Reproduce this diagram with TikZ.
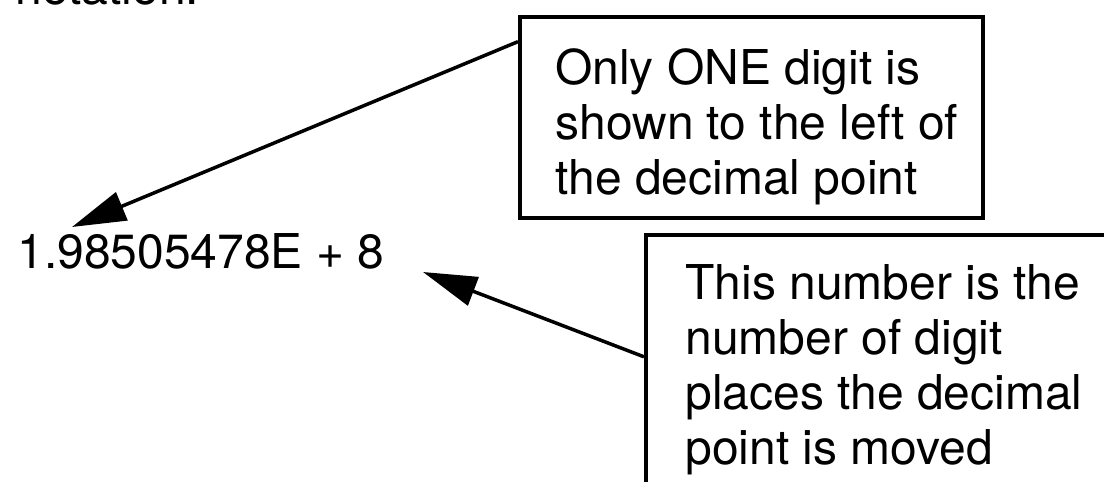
\documentclass[tikz,border=0pt]{standalone}
\usepackage{fontspec}
\setmainfont{TeX Gyre Heros}
\usetikzlibrary{arrows.meta}

\begin{document}
\begin{tikzpicture}[x=0.5pt, y=-0.5pt, >={Triangle[length=27pt, width=15pt]},
    hop/.style={draw, line width=2pt, inner sep=0pt},
    chu/.style={font=\fontsize{24}{27.5}\selectfont, align=left, inner sep=0pt}]
    \useasboundingbox (0,0) rectangle (1104,482);

    % Dòng chữ phía trên (bị cắt)
    \node[chu, anchor=base west] (notation) at (15,4) {notation.};

    % Số viết dạng E
    \node[chu, anchor=base west] (so) at (17,268) {1.98505478E + 8};

    % Hộp chú thích thứ nhất
    \node[hop, minimum width=231.5pt, minimum height=100.5pt, anchor=north west] (mot) at (518,15) {};
    \node[chu, anchor=north west] (motchu) at (555,48) {Only ONE digit is\\shown to the left of\\the decimal point};

    % Hộp chú thích thứ hai
    \node[hop, minimum width=240pt, minimum height=134.5pt, anchor=north west] (hai) at (644,233) {};
    \node[chu, anchor=north west] (haichu) at (685,264) {This number is the\\number of digit\\places the decimal\\point is moved};

    % Các mũi tên
    \coordinate (dau1) at (72,227);
    \coordinate (dau2) at (423,272);
    \draw[->, line width=1.75pt] (mot.162) -- (dau1);
    \draw[->, line width=1.75pt] (hai.177) -- (dau2);
\end{tikzpicture}
\end{document}
